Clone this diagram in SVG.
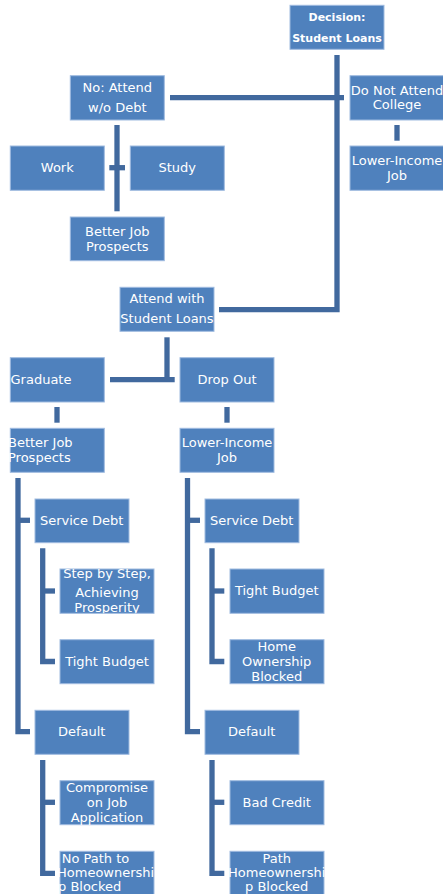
<svg xmlns="http://www.w3.org/2000/svg" width="443" height="894" viewBox="0 0 443 894">
<style>
.box{fill:#4F81BD;stroke:#9FBBE0;stroke-width:1}
.t{font-family:"DejaVu Sans",sans-serif;font-size:13px;fill:#FFFFFF;text-anchor:middle}
.ts{text-anchor:start}
.tb{font-family:"DejaVu Sans",sans-serif;font-size:11px;font-weight:bold;fill:#FFFFFF;text-anchor:middle}
.c{fill:none;stroke:#41699E;stroke-width:5.3;stroke-linejoin:miter;stroke-linecap:butt}
</style>
<defs>
<clipPath id="clipStep"><rect x="60" y="569" width="94" height="44.3"/></clipPath>
</defs>
<rect width="443" height="894" fill="#FFFFFF"/>
<g id="connectors">
<path class="c" d="M337,55 V309.7 H219"/>
<path class="c" d="M170,97.7 H344"/>
<path class="c" d="M397,125 V140.7"/>
<path class="c" d="M117,125 V211.3"/>
<path class="c" d="M109.3,167.7 H125"/>
<path class="c" d="M167,337.3 V379.5"/>
<path class="c" d="M110,379.6 H174.7"/>
<path class="c" d="M57,407 V422.7"/>
<path class="c" d="M227,407 V422.7"/>
<path class="c" d="M18,478 V731.7 H30"/>
<path class="c" d="M18,520.3 H30"/>
<path class="c" d="M42.7,548.3 V661.5 H55"/>
<path class="c" d="M42.7,591 H55"/>
<path class="c" d="M42.7,760 V873.3 H55"/>
<path class="c" d="M42.7,802.3 H55"/>
<path class="c" d="M187.5,478 V731.7 H200"/>
<path class="c" d="M187.5,520.3 H200"/>
<path class="c" d="M212,548.3 V661.5 H224.3"/>
<path class="c" d="M212,591 H224.3"/>
<path class="c" d="M212,760 V873.3 H224.3"/>
<path class="c" d="M212,802.3 H224.3"/>
</g>
<g id="decision"><rect class="box" x="290" y="5.3" width="94" height="44"/><text class="tb" x="337" y="20.5">Decision:</text><text class="tb" x="337" y="41.5">Student Loans</text></g>
<g id="no-attend"><rect class="box" x="70.3" y="75.7" width="94" height="44.3"/><text class="t" x="117.3" y="91.8">No: Attend</text><text class="t" x="117.3" y="111.8">w/o Debt</text></g>
<g id="do-not-attend"><rect class="box" x="350" y="75.7" width="94" height="44.3"/><text class="t" x="397" y="94.5">Do Not Attend</text><text class="t" x="397" y="108.8">College</text></g>
<g id="lower-income-top"><rect class="box" x="350" y="146" width="94" height="44.3"/><text class="t" x="397" y="165.2">Lower-Income</text><text class="t" x="397" y="179.5">Job</text></g>
<g id="work"><rect class="box" x="10.3" y="146" width="94" height="44.3"/><text class="t" x="57.3" y="172.2">Work</text></g>
<g id="study"><rect class="box" x="130.3" y="146" width="94" height="44.3"/><text class="t" x="177.3" y="172.2">Study</text></g>
<g id="better-top"><rect class="box" x="70.3" y="217" width="94" height="43.7"/><text class="t" x="117.3" y="236.2">Better Job</text><text class="t" x="117.3" y="251.2">Prospects</text></g>
<g id="attend-loans"><rect class="box" x="120" y="287.3" width="94" height="44"/><text class="t" x="167" y="302.8">Attend with</text><text class="t" x="167" y="322.8">Student Loans</text></g>
<g id="graduate"><rect class="box" x="10.3" y="357.7" width="94" height="44.3"/><text class="t ts" x="10.5" y="384">Graduate</text></g>
<g id="drop-out"><rect class="box" x="180" y="357.7" width="94" height="44.3"/><text class="t" x="227" y="384">Drop Out</text></g>
<g id="better-left"><rect class="box" x="10.3" y="428.3" width="94" height="44"/><text class="t ts" x="8" y="446.8">Better Job</text><text class="t ts" x="8" y="462.2">Prospects</text></g>
<g id="lower-income-right"><rect class="box" x="180" y="428.3" width="94" height="44"/><text class="t" x="227" y="446.8">Lower-Income</text><text class="t" x="227" y="462.2">Job</text></g>
<g id="service-left"><rect class="box" x="35" y="499" width="94" height="43.7"/><text class="t" x="81.7" y="524.8">Service Debt</text></g>
<g id="service-right"><rect class="box" x="205" y="499" width="94" height="43.7"/><text class="t" x="251.7" y="524.8">Service Debt</text></g>
<g id="step-by-step"><rect class="box" x="60" y="569" width="94" height="44.3"/><g clip-path="url(#clipStep)"><text class="t" x="107" y="577.5">Step by Step,</text><text class="t" x="107" y="597.3">Achieving</text><text class="t" x="107" y="612">Prosperity</text></g></g>
<g id="tight-left"><rect class="box" x="60" y="639.7" width="94" height="44"/><text class="t" x="107" y="665.8">Tight Budget</text></g>
<g id="tight-right"><rect class="box" x="230" y="569" width="94" height="44.3"/><text class="t" x="276.7" y="595">Tight Budget</text></g>
<g id="home-blocked"><rect class="box" x="230" y="639.7" width="94" height="44"/><text class="t" x="276.7" y="650.8">Home</text><text class="t" x="276.7" y="665.8">Ownership</text><text class="t" x="276.7" y="680.8">Blocked</text></g>
<g id="default-left"><rect class="box" x="35" y="710.3" width="94" height="44"/><text class="t" x="81.7" y="736.2">Default</text></g>
<g id="default-right"><rect class="box" x="205" y="710.3" width="94" height="44"/><text class="t" x="251.7" y="736.2">Default</text></g>
<g id="compromise"><rect class="box" x="60" y="780.7" width="94" height="44"/><text class="t" x="107" y="791.8">Compromise</text><text class="t" x="107" y="806.8">on Job</text><text class="t" x="107" y="821.8">Application</text></g>
<g id="bad-credit"><rect class="box" x="230" y="780.7" width="94" height="44"/><text class="t" x="276.7" y="806.8">Bad Credit</text></g>
<g id="no-path"><rect class="box" x="60" y="851.3" width="94" height="44"/><text class="t ts" x="61.7" y="862.8">No Path to</text><text class="t ts" x="57" y="877.2">Homeownershi</text><text class="t ts" x="58" y="891.2">p Blocked</text></g>
<g id="path-home"><rect class="box" x="230" y="851.3" width="94" height="44"/><text class="t" x="276.7" y="862.8">Path</text><text class="t" x="276.7" y="877.2">Homeownershi</text><text class="t" x="276.7" y="891.2">p Blocked</text></g>
</svg>
